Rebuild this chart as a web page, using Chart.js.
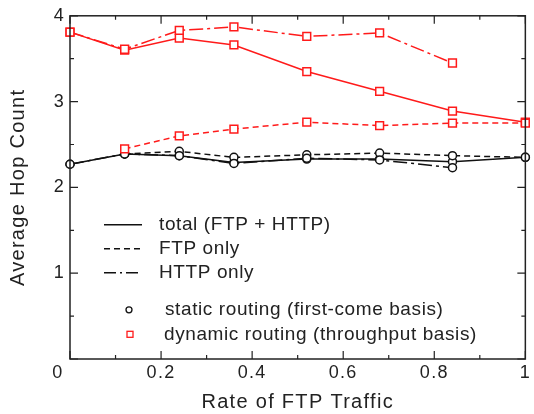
<!DOCTYPE html>
<html>
<head>
<meta charset="utf-8">
<script src="https://cdn.jsdelivr.net/npm/chart.js@4/dist/chart.umd.min.js"></script>
<style>
  html, body { margin: 0; padding: 0; background: #fff; }
  #wrap { width: 534px; height: 414px; }
</style>
</head>
<body>
<div id="wrap"><canvas id="hopChart"></canvas></div>
<script>
// Rate of FTP traffic (x) and average hop count per routing / traffic type
const xValues = [0, 0.12, 0.24, 0.36, 0.52, 0.68, 0.84, 1.0];

const staticTotal = [2.27, 2.39, 2.37, 2.29, 2.33, 2.33, 2.30, 2.35];
const staticFtp = [null, 2.39, 2.42, 2.35, 2.38, 2.40, 2.37, 2.35];
const staticHttp = [2.27, 2.39, 2.37, 2.28, 2.34, 2.32, 2.23, null];

const dynamicTotal = [3.81, 3.60, 3.74, 3.66, 3.35, 3.12, 2.89, 2.76];
const dynamicFtp = [null, 2.45, 2.60, 2.68, 2.76, 2.72, 2.75, 2.75];
const dynamicHttp = [3.81, 3.61, 3.83, 3.87, 3.76, 3.80, 3.45, null];

const xTickLabels = ['0', '0.2', '0.4', '0.6', '0.8', '1'];
const yTickLabels = ['0', '1', '2', '3', '4'];

const legendLines = ['total (FTP + HTTP)', 'FTP only', 'HTTP only'];
const legendMarkers = ['static routing (first-come basis)', 'dynamic routing (throughput basis)'];

const FONT = "'Liberation Sans', Arial, Helvetica, sans-serif";
const RED = '#ff1a1a';
const BLACK = '#111';
const DASH = [6, 4];
const DASH_DOT = [14, 4, 3, 4];

function toPoints(ys) {
    return xValues.map((x, i) => ({ x: x, y: ys[i] }));
}

function staticSet(label, ys, dash) {
    return {
        label: label,
        data: toPoints(ys),
        borderColor: BLACK,
        borderWidth: 1.5,
        borderDash: dash,
        pointStyle: 'circle',
        pointRadius: 4,
        pointBorderWidth: 1.5,
        pointBorderColor: BLACK,
        pointBackgroundColor: '#fff',
        tension: 0
    };
}

function dynamicSet(label, ys, dash) {
    return {
        label: label,
        data: toPoints(ys),
        borderColor: RED,
        borderWidth: 1.5,
        borderDash: dash,
        pointStyle: 'rect',
        pointRadius: 5.5,
        pointBorderWidth: 1.5,
        pointBorderColor: RED,
        pointBackgroundColor: '#fff',
        tension: 0
    };
}

// frame, inward ticks on all sides, the shared "0" and the in-plot legend
const framePlugin = {
    id: 'frame',
    beforeLayout(chart) { chart.ctx.letterSpacing = '1.3px'; },
    beforeDraw(chart) { chart.ctx.letterSpacing = '1.3px'; },
    afterDraw(chart) {
        const ctx = chart.ctx;
        const a = chart.chartArea;
        const xs = chart.scales.x;
        const ys = chart.scales.y;
        ctx.save();
        ctx.strokeStyle = '#222';
        ctx.lineWidth = 1.5;
        ctx.setLineDash([]);
        ctx.strokeRect(a.left, a.top, a.right - a.left, a.bottom - a.top);

        ctx.lineWidth = 1.2;
        ctx.beginPath();
        for (let i = 0; i <= 10; i++) {
            const len = i % 2 === 0 ? 8 : 4;
            const px = xs.getPixelForValue(i / 10);
            ctx.moveTo(px, a.bottom); ctx.lineTo(px, a.bottom - len);
            ctx.moveTo(px, a.top); ctx.lineTo(px, a.top + len);
        }
        for (let i = 0; i <= 8; i++) {
            const len = i % 2 === 0 ? 8 : 4;
            const py = ys.getPixelForValue(i / 2);
            ctx.moveTo(a.left, py); ctx.lineTo(a.left + len, py);
            ctx.moveTo(a.right, py); ctx.lineTo(a.right - len, py);
        }
        ctx.stroke();

        // origin label shared by both axes
        ctx.fillStyle = '#222';
        ctx.font = '18px ' + FONT;
        ctx.letterSpacing = '1.3px';
        ctx.textAlign = 'center';
        ctx.textBaseline = 'middle';
        ctx.fillText(xTickLabels[0], xs.getPixelForValue(0) - 12, a.bottom + 14);

        // legend: line styles
        const lx = a.left + 34;
        const styles = [[], DASH, DASH_DOT];
        ctx.font = '19px ' + FONT;
        ctx.letterSpacing = '0.6px';
        ctx.textAlign = 'left';
        legendLines.forEach((txt, i) => {
            const ly = a.top + 209 + i * 24;
            ctx.strokeStyle = BLACK;
            ctx.lineWidth = 1.5;
            ctx.setLineDash(i === 2 ? [12, 4, 2, 4] : styles[i]);
            ctx.beginPath();
            ctx.moveTo(lx, ly); ctx.lineTo(lx + 38, ly);
            ctx.stroke();
            ctx.fillText(txt, lx + 55, ly);
        });

        // legend: marker styles
        ctx.setLineDash([]);
        ctx.lineWidth = 1.3;
        const my0 = a.top + 294;
        ctx.strokeStyle = BLACK;
        ctx.beginPath();
        ctx.arc(lx + 25, my0, 3, 0, Math.PI * 2);
        ctx.stroke();
        ctx.fillText(legendMarkers[0], lx + 61, my0);
        const my1 = my0 + 24.5;
        ctx.strokeStyle = RED;
        ctx.strokeRect(lx + 23, my1 - 3, 6, 6);
        ctx.fillText(legendMarkers[1], lx + 60, my1);
        ctx.restore();
    }
};

const hopCtx = document.getElementById('hopChart').getContext('2d');
const hopChart = new Chart(hopCtx, {
    type: 'line',
    data: {
        datasets: [
            dynamicSet('dynamic HTTP only', dynamicHttp, DASH_DOT),
            dynamicSet('dynamic FTP only', dynamicFtp, DASH),
            dynamicSet('dynamic total', dynamicTotal, []),
            staticSet('static HTTP only', staticHttp, DASH_DOT),
            staticSet('static FTP only', staticFtp, DASH),
            staticSet('static total', staticTotal, [])
        ]
    },
    options: {
        responsive: true,
        maintainAspectRatio: false,
        animation: false,
        clip: false,
        layout: { padding: { left: 0, right: 4, top: 13, bottom: 0 } },
        scales: {
            x: {
                type: 'linear',
                min: 0,
                max: 1,
                grid: { display: false, drawTicks: false },
                border: { display: false },
                afterFit: (scale) => { scale.height = 55; },
                ticks: {
                    stepSize: 0.2,
                    padding: 3,
                    maxRotation: 0,
                    autoSkip: false,
                    color: '#222',
                    font: { family: FONT, size: 18 },
                    callback: (v) => {
                        const i = Math.round(v / 0.2);
                        return i === 0 ? '' : xTickLabels[i];
                    }
                },
                title: {
                    display: true,
                    text: 'Rate of FTP Traffic',
                    color: '#222',
                    font: { family: FONT, size: 20 },
                    padding: { top: 0, bottom: 0 }
                }
            },
            y: {
                min: 0,
                max: 4,
                grid: { display: false, drawTicks: false },
                border: { display: false },
                afterFit: (scale) => { scale.width = 70; },
                ticks: {
                    stepSize: 1,
                    padding: 5,
                    color: '#222',
                    font: { family: FONT, size: 18 },
                    callback: (v) => (v === 0 ? '' : yTickLabels[v])
                },
                title: {
                    display: true,
                    text: 'Average Hop Count',
                    color: '#222',
                    font: { family: FONT, size: 20 },
                    padding: { top: 6, bottom: 0 }
                }
            }
        },
        plugins: {
            legend: { display: false },
            tooltip: { enabled: false }
        }
    },
    plugins: [framePlugin]
});
</script>
</body>
</html>
